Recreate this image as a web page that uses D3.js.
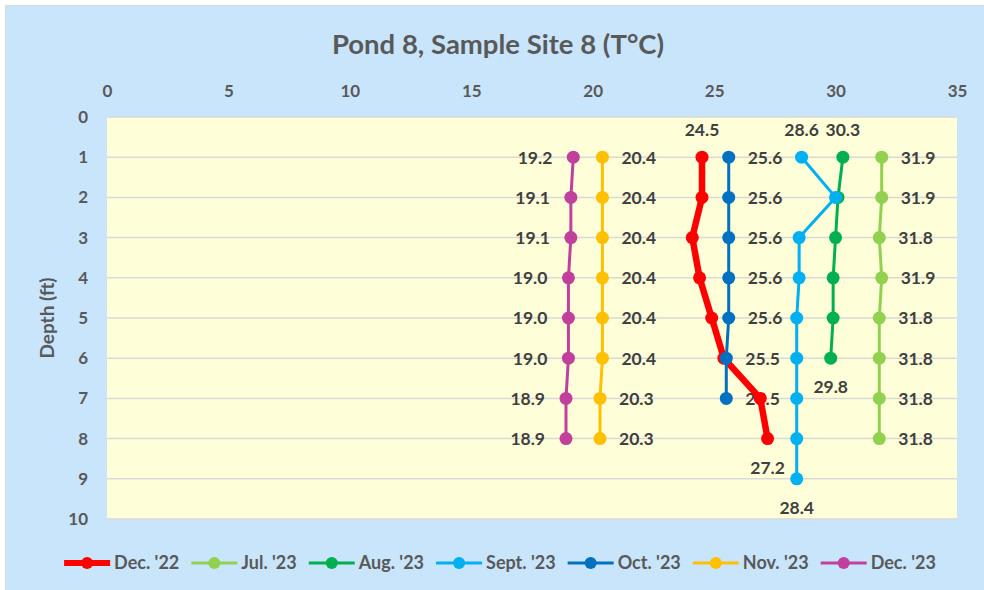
<!DOCTYPE html>
<html>
<head>
<meta charset="utf-8">
<script src="https://cdn.jsdelivr.net/npm/d3@7"></script>
<style>
  html, body { margin: 0; padding: 0; background: #ffffff; }
  svg { display: block; font-family: Lato, "Open Sans", sans-serif; font-weight: bold; }
</style>
</head>
<body>
<svg id="chart" width="984" height="590"></svg>
<script>
// Depth rows (ft) and temperature series (°C)
var depths = [1, 2, 3, 4, 5, 6, 7, 8, 9];
var dec22 = [24.5, 24.5, 24.1, 24.4, 24.9, 25.4, 26.9, 27.2];
var jul23 = [31.9, 31.9, 31.8, 31.9, 31.8, 31.8, 31.8, 31.8];
var aug23 = [30.3, 30.1, 30.0, 29.9, 29.9, 29.8];
var sep23 = [28.6, 30.0, 28.5, 28.5, 28.4, 28.4, 28.4, 28.4, 28.4];
var oct23 = [25.6, 25.6, 25.6, 25.6, 25.6, 25.5, 25.5];
var nov23 = [20.4, 20.4, 20.4, 20.4, 20.4, 20.4, 20.3, 20.3];
var dec23 = [19.2, 19.1, 19.1, 19.0, 19.0, 19.0, 18.9, 18.9];

var seriesNames = ["Dec. '22", "Jul. '23", "Aug. '23", "Sept. '23", "Oct. '23", "Nov. '23", "Dec. '23"];
var xTicks = [0, 5, 10, 15, 20, 25, 30, 35];
var yTicks = [0, 1, 2, 3, 4, 5, 6, 7, 8, 9, 10];

var title = "Pond 8, Sample Site 8 (T°C)";
var yTitle = "Depth (ft)";

// styling per series: colour, line width, where the value labels sit
var styles = [
  { color: "#FF0000", width: 6.5, labels: "ends" },
  { color: "#92D050", width: 3, labels: "right" },
  { color: "#00B050", width: 3, labels: "ends" },
  { color: "#00B0F0", width: 3, labels: "ends" },
  { color: "#0070C0", width: 3, labels: "right" },
  { color: "#FFC000", width: 3, labels: "right" },
  { color: "#C0409C", width: 3, labels: "left" }
];

var allValues = [dec22, jul23, aug23, sep23, oct23, nov23, dec23];
var series = seriesNames.map(function (name, i) {
  return {
    name: name,
    style: styles[i],
    points: allValues[i].map(function (v, j) { return { temp: v, depth: depths[j] }; })
  };
});

var svg = d3.select("#chart");

// chart background + border
svg.append("rect")
  .attr("x", 5.5).attr("y", 5.5)
  .attr("width", 1000).attr("height", 600)
  .attr("fill", "#C8E5FC")
  .attr("stroke", "#D9D9D9")
  .attr("stroke-width", 1);

var plot = { left: 107, right: 957, top: 117, bottom: 519 };

var x = d3.scaleLinear().domain([0, 35]).range([plot.left, plot.right]);
var y = d3.scaleLinear().domain([0, 10]).range([plot.top, plot.bottom]);

// plot area
svg.append("rect")
  .attr("x", plot.left).attr("y", plot.top)
  .attr("width", plot.right - plot.left).attr("height", plot.bottom - plot.top)
  .attr("fill", "#FEFED8");

// horizontal gridlines
svg.append("g").selectAll("line")
  .data(yTicks)
  .enter().append("line")
  .attr("x1", plot.left).attr("x2", plot.right)
  .attr("y1", function (d) { return y(d); })
  .attr("y2", function (d) { return y(d); })
  .attr("stroke", "#D9D9D9")
  .attr("stroke-width", 1.5);

// title
svg.append("text")
  .attr("x", 498).attr("y", 54)
  .attr("text-anchor", "middle")
  .attr("fill", "#595959")
  .style("font-size", "27.5px")
  .text(title);

// top x-axis
var xAxis = svg.append("g")
  .attr("transform", "translate(0," + plot.top + ")")
  .call(d3.axisTop(x).tickValues(xTicks).tickSize(0).tickPadding(20));
xAxis.select(".domain").remove();
xAxis.selectAll("text")
  .attr("fill", "#595959")
  .style("font-size", "17px")
  .style("font-family", "Lato, sans-serif")
  .style("font-weight", "bold");

// left y-axis
var yAxis = svg.append("g")
  .attr("transform", "translate(" + plot.left + ",0)")
  .call(d3.axisLeft(y).tickValues(yTicks).tickSize(0).tickPadding(19));
yAxis.select(".domain").remove();
yAxis.selectAll("text")
  .attr("fill", "#595959")
  .style("font-size", "17px")
  .style("font-family", "Lato, sans-serif")
  .style("font-weight", "bold");

svg.append("text")
  .attr("transform", "translate(47," + ((plot.top + plot.bottom) / 2) + ") rotate(-90)")
  .attr("text-anchor", "middle")
  .attr("dy", "0.35em")
  .attr("fill", "#595959")
  .style("font-size", "19px")
  .text(yTitle);

// data labels (drawn under the lines, as in the reference)
var labelLayer = svg.append("g");
var lineLayer = svg.append("g");

series.forEach(function (s) {
  var pts = s.points;
  var lab = [];
  if (s.style.labels === "ends") {
    lab.push({ p: pts[0], pos: "above" });
    lab.push({ p: pts[pts.length - 1], pos: "below" });
  } else {
    pts.forEach(function (p) { lab.push({ p: p, pos: s.style.labels }); });
  }
  labelLayer.selectAll(null)
    .data(lab)
    .enter().append("text")
    .attr("fill", "#404040")
    .style("font-size", "17.5px")
    .attr("text-anchor", function (d) {
      return d.pos === "right" ? "start" : d.pos === "left" ? "end" : "middle";
    })
    .attr("x", function (d) {
      var px = x(d.p.temp);
      if (d.pos === "right") return px + 19;
      if (d.pos === "left") return px - 21;
      return px;
    })
    .attr("y", function (d) {
      var py = y(d.p.depth);
      if (d.pos === "above") return py - 21;
      if (d.pos === "below") return py + 35;
      return py;
    })
    .attr("dy", function (d) { return (d.pos === "right" || d.pos === "left") ? "0.36em" : 0; })
    .text(function (d) { return d3.format(".1f")(d.p.temp); });
});

var line = d3.line()
  .x(function (d) { return x(d.temp); })
  .y(function (d) { return y(d.depth); });

series.forEach(function (s) {
  var g = lineLayer.append("g");
  g.append("path")
    .datum(s.points)
    .attr("fill", "none")
    .attr("stroke", s.style.color)
    .attr("stroke-width", s.style.width)
    .attr("stroke-linejoin", "round")
    .attr("d", line);
  g.selectAll("circle")
    .data(s.points)
    .enter().append("circle")
    .attr("cx", function (d) { return x(d.temp); })
    .attr("cy", function (d) { return y(d.depth); })
    .attr("r", 6.5)
    .attr("fill", s.style.color);
});

// legend, centred under the plot
var legend = svg.append("g").attr("transform", "translate(0,563)");
var cursor = 0;
var items = [];
series.forEach(function (s) {
  var item = legend.append("g");
  item.append("line")
    .attr("x1", 0).attr("x2", 46)
    .attr("stroke", s.style.color)
    .attr("stroke-width", s.style.width === 3 ? 3 : 6);
  item.append("circle")
    .attr("cx", 23).attr("r", 6)
    .attr("fill", s.style.color);
  var t = item.append("text")
    .attr("x", 50).attr("dy", "0.36em")
    .attr("fill", "#595959")
    .style("font-size", "18px")
    .text(s.name);
  var w = 50 + t.node().getComputedTextLength();
  items.push({ g: item, w: w });
});
var gap = 12;
var total = d3.sum(items, function (d) { return d.w; }) + gap * (items.length - 1);
cursor = 500 - total / 2;
items.forEach(function (d) {
  d.g.attr("transform", "translate(" + cursor + ",0)");
  cursor += d.w + gap;
});
</script>
</body>
</html>
